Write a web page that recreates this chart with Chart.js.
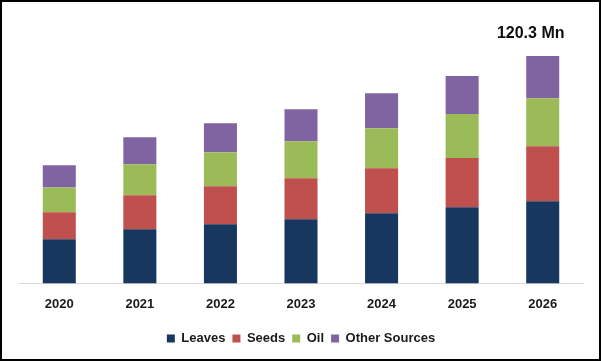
<!DOCTYPE html>
<html>
<head>
<meta charset="utf-8">
<script src="https://cdn.jsdelivr.net/npm/chart.js@4.4.1/dist/chart.umd.min.js"></script>
<style>
  html, body { margin: 0; padding: 0; background: #ffffff; }
  #wrap { position: relative; width: 601px; height: 361px; }
</style>
</head>
<body>
<div id="wrap"><canvas id="c" width="601" height="361"></canvas></div>
<script>
const categories = ["2020", "2021", "2022", "2023", "2024", "2025", "2026"];
const leaves = [23.3, 28.6, 31.3, 33.9, 37.1, 40.3, 43.5];
const seeds = [14.3, 18.0, 20.1, 21.7, 23.8, 26.0, 29.1];
const oil = [13.2, 16.4, 18.0, 19.6, 21.2, 23.3, 25.4];
const otherSources = [11.7, 14.3, 15.4, 17.0, 18.5, 20.1, 22.3];
const annotationText = "120.3 Mn";

const textFont = "'Liberation Sans', Arial, sans-serif";

const extras = {
  id: 'extras',
  afterDraw(chart) {
    const ctx = chart.ctx;
    ctx.save();
    // outer border
    ctx.strokeStyle = '#000000';
    ctx.lineWidth = 2;
    ctx.strokeRect(1, 1, chart.width - 2, chart.height - 2);
    // annotation above last bar
    const last = categories.length - 1;
    const meta = chart.getDatasetMeta(3);
    const el = meta.data[last];
    ctx.fillStyle = '#0d0d0d';
    ctx.font = "bold 16px " + textFont;
    ctx.textAlign = 'center';
    ctx.textBaseline = 'middle';
    ctx.fillText(annotationText, el.x - 12, el.y - 22);
    ctx.restore();
  }
};

new Chart(document.getElementById('c'), {
  type: 'bar',
  data: {
    labels: categories,
    datasets: [
      { label: 'Leaves', data: leaves, backgroundColor: '#17375E' },
      { label: 'Seeds', data: seeds, backgroundColor: '#C0504D' },
      { label: 'Oil', data: oil, backgroundColor: '#9BBB59' },
      { label: 'Other Sources', data: otherSources, backgroundColor: '#8064A2' }
    ]
  },
  options: {
    responsive: false,
    animation: false,
    devicePixelRatio: 1,
    datasets: { bar: { barPercentage: 0.82, categoryPercentage: 0.5 } },
    layout: { padding: { left: 19, right: 18, top: 40, bottom: 6 } },
    plugins: {
      legend: {
        position: 'bottom',
        labels: {
          boxWidth: 8, boxHeight: 8, padding: 7,
          color: '#1a1a1a',
          font: { family: textFont, size: 13, weight: 'bold' }
        }
      },
      tooltip: { enabled: false }
    },
    scales: {
      x: {
        stacked: true,
        grid: { display: false, drawTicks: false },
        border: { display: true, color: '#d9d9d9', width: 1 },
        ticks: {
          color: '#1a1a1a', padding: 13,
          font: { family: textFont, size: 13, weight: 'bold' }
        }
      },
      y: {
        stacked: true,
        display: false,
        min: 0,
        max: 128.8
      }
    }
  },
  plugins: [extras]
});
</script>
</body>
</html>
